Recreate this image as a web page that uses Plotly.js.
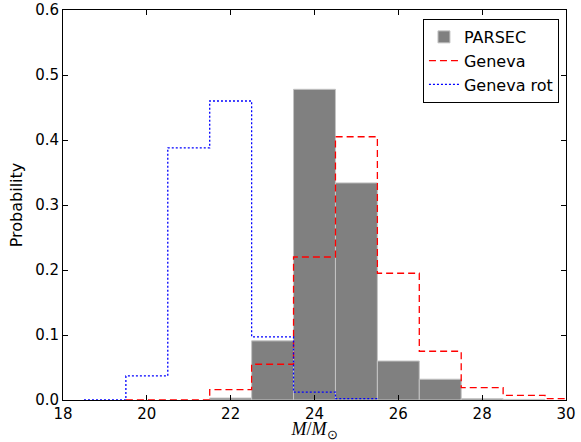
<!DOCTYPE html>
<html>
<head>
<meta charset="utf-8">
<script src="https://cdn.plot.ly/plotly-3.0.1.min.js"></script>
<style>html,body{margin:0;padding:0;background:#fff;}#chart{width:581px;height:442px;}</style>
</head>
<body>
<div id="chart"></div>
<script>
// PARSEC histogram (bin centers, width 1)
const parsecCenters = [22, 23, 24, 25, 26, 27, 28, 29];
const parsecValues  = [0.003, 0.091, 0.478, 0.334, 0.060, 0.032, 0.002, 0.001];

// Geneva (step outline), bins starting at left edge
const genevaFirstEdge = 19.5;
const genevaValues = [0.0, 0.0, 0.016, 0.055, 0.220, 0.405, 0.195, 0.075, 0.019, 0.007, 0.002];

// Geneva rot (step outline)
const rotFirstEdge = 18.5;
const rotValues = [0.0, 0.037, 0.388, 0.460, 0.097, 0.012, 0.002];

const xTicks = [18, 20, 22, 24, 26, 28, 30];
const yTicks = [0.0, 0.1, 0.2, 0.3, 0.4, 0.5, 0.6];

function stepXY(firstEdge, vals) {
  const xs = [firstEdge], ys = [0];
  vals.forEach((v, i) => {
    xs.push(firstEdge + i, firstEdge + i + 1);
    ys.push(v, v);
  });
  xs.push(firstEdge + vals.length);
  ys.push(0);
  return {x: xs, y: ys};
}

const g = stepXY(genevaFirstEdge, genevaValues);
const r = stepXY(rotFirstEdge, rotValues);

const traces = [
  {type: 'bar', x: parsecCenters, y: parsecValues, width: 1, name: 'PARSEC',
   marker: {color: '#808080', line: {color: '#c4c4c4', width: 1}}},
  {type: 'scatter', mode: 'lines', x: g.x, y: g.y, name: 'Geneva',
   line: {color: '#ff0000', width: 1.3, dash: '7px,4px'}},
  {type: 'scatter', mode: 'lines', x: r.x, y: r.y, name: 'Geneva rot',
   line: {color: '#0000ff', width: 1.3, dash: '2px,2px'}}
];

const layout = {
  width: 581, height: 442,
  margin: {l: 63, r: 15, t: 10, b: 42},
  paper_bgcolor: '#fff', plot_bgcolor: '#fff',
  font: {family: 'DejaVu Sans', size: 15, color: '#000'},
  showlegend: true,
  legend: {x: 0.986, y: 0.977, xanchor: 'right', yanchor: 'top',
           bordercolor: '#000', borderwidth: 1, bgcolor: '#fff',
           font: {family: 'DejaVu Sans', size: 16}, tracegroupgap: 0},
  bargap: 0,
  xaxis: {range: [18, 30], tickvals: xTicks, ticktext: xTicks.map(String),
          ticks: 'inside', ticklen: 5, tickcolor: '#000', mirror: 'allticks',
          showline: true, linecolor: '#000', linewidth: 1, showgrid: false, zeroline: false,
          title: {text: '<i>M</i>/<i>M</i><sub>⊙</sub>', font: {family: 'Liberation Serif', size: 18}, standoff: 0}},
  yaxis: {range: [0, 0.6], tickvals: yTicks, ticktext: yTicks.map(v => v.toFixed(1)),
          ticks: 'inside', ticklen: 5, tickcolor: '#000', mirror: 'allticks',
          showline: true, linecolor: '#000', linewidth: 1, showgrid: false, zeroline: false,
          title: {text: 'Probability', font: {family: 'DejaVu Sans', size: 16}, standoff: 8}}
};

Plotly.newPlot('chart', traces, layout, {displayModeBar: false, staticPlot: true});
</script>
</body>
</html>
